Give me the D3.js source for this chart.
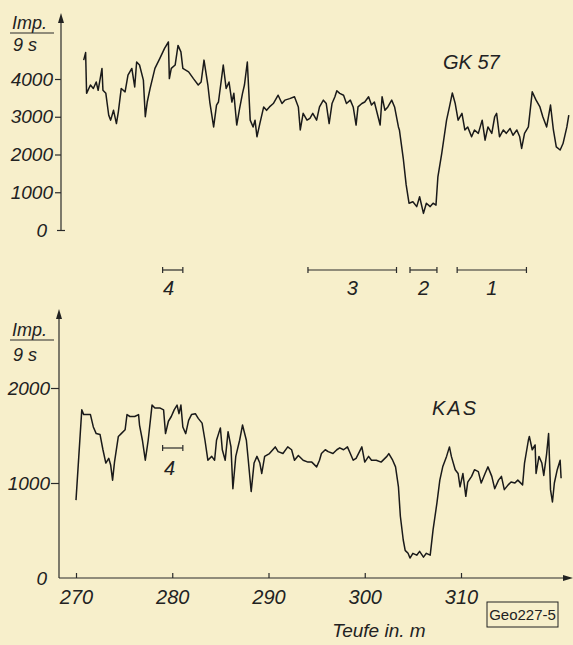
<!DOCTYPE html>
<html lang="de">
<head>
<meta charset="UTF-8">
<title>GK 57 / KAS - Teufe</title>
<style>
  body { margin: 0; background: #f7efcb; }
  svg { display: block; }
  text { font-family: "Liberation Sans", Arial, sans-serif; font-style: italic; fill: #222; }
  .trace { fill: none; stroke: #1a1a1a; stroke-width: 1.5px; stroke-linejoin: round; }
  .axis line, .ax { stroke: #2a2a2a; stroke-width: 1.2px; fill: none; }
</style>
</head>
<body>
<script src="https://d3js.org/d3.v7.min.js"></script>
<script>
// GK 57 log: [depth m, Imp./9 s]
const gk57 = [[270.8,4500],[271.0,4700],[271.1,3620],[271.5,3840],[271.8,3750],[272.1,3920],[272.3,3700],[272.7,4280],[272.8,3700],[273.1,3620],[273.4,3040],[273.6,2910],[273.9,3170],[274.2,2820],[274.4,3130],[274.7,3750],[275.1,3660],[275.4,4100],[275.8,4280],[276.1,3790],[276.3,4450],[276.6,4370],[277.0,3970],[277.2,3000],[277.4,3390],[277.7,3750],[278.2,4280],[278.7,4540],[279.2,4810],[279.6,4980],[279.7,4010],[279.9,4280],[280.3,4370],[280.6,4890],[280.9,4720],[281.1,4280],[281.7,4190],[282.2,4010],[282.7,3840],[283.0,3920],[283.3,4500],[283.7,3840],[283.9,3390],[284.3,2730],[284.6,3310],[284.8,3390],[285.3,4370],[285.6,3750],[285.9,3920],[286.2,3390],[286.4,3620],[286.7,2780],[287.0,3220],[287.3,3620],[287.5,3840],[287.8,4450],[288.1,2910],[288.4,2730],[288.6,2910],[288.8,2470],[289.1,2820],[289.5,3260],[289.8,3170],[290.1,3260],[290.5,3350],[291.0,3570],[291.4,3350],[291.7,3440],[292.2,3480],[292.7,3530],[293.1,3260],[293.3,2650],[293.6,3090],[294.0,2910],[294.3,2960],[294.6,3090],[295.0,2910],[295.3,3260],[295.7,3440],[296.0,3350],[296.3,2820],[296.6,3350],[296.9,3530],[297.1,3690],[297.4,3620],[297.8,3570],[298.1,3350],[298.5,3440],[298.8,3260],[299.1,2780],[299.3,3260],[299.7,3350],[300.0,3390],[300.4,3530],[300.7,3310],[301.0,3390],[301.6,2780],[301.8,3530],[302.1,3170],[302.4,3260],[302.8,3440],[303.1,3260],[303.5,2730],[303.6,2650],[304.0,1900],[304.3,1200],[304.6,710],[305.0,750],[305.4,620],[305.7,880],[306.1,440],[306.4,710],[306.8,620],[307.1,710],[307.4,660],[307.6,1410],[308.0,2030],[308.5,2910],[308.8,3260],[309.1,3630],[309.4,3350],[309.7,2910],[310.1,3090],[310.4,2650],[310.7,2730],[311.1,2470],[311.4,2650],[311.8,2560],[312.2,2910],[312.5,2380],[312.8,2730],[313.2,2560],[313.5,3000],[313.7,3090],[314.0,2470],[314.4,2650],[314.7,2560],[315.1,2690],[315.4,2510],[315.8,2650],[316.1,2470],[316.3,2160],[316.6,2560],[317.0,2730],[317.4,3660],[317.8,3440],[318.2,3260],[318.5,3000],[318.9,2730],[319.3,3310],[319.6,2650],[319.9,2200],[320.3,2120],[320.6,2290],[321.0,2730],[321.2,3040]];

// KAS log: [depth m, Imp./9 s]
const kas = [[270.0,820],[270.6,1770],[270.8,1720],[271.5,1720],[271.8,1590],[272.1,1520],[272.5,1510],[272.8,1350],[273.1,1210],[273.4,1260],[273.6,1190],[273.8,1030],[274.0,1220],[274.4,1490],[274.7,1520],[275.1,1560],[275.3,1720],[275.6,1700],[276.1,1700],[276.5,1720],[276.6,1610],[276.9,1450],[277.2,1240],[277.5,1450],[277.9,1820],[278.2,1790],[278.7,1790],[279.1,1770],[279.3,1520],[279.6,1650],[279.9,1700],[280.2,1770],[280.5,1820],[280.7,1730],[280.9,1820],[281.1,1590],[281.4,1520],[281.7,1660],[282.0,1720],[282.4,1730],[282.7,1680],[283.1,1630],[283.4,1450],[283.7,1240],[284.1,1280],[284.4,1240],[284.6,1450],[285.0,1580],[285.2,1350],[285.5,1240],[285.8,1540],[286.1,1380],[286.3,940],[286.6,1280],[287.0,1450],[287.3,1610],[287.7,1450],[287.9,1240],[288.2,910],[288.5,1210],[288.8,1280],[289.1,1210],[289.3,1100],[289.6,1280],[290.1,1310],[290.7,1380],[291.0,1330],[291.5,1310],[292.0,1380],[292.4,1350],[292.7,1240],[293.1,1290],[293.6,1240],[294.1,1220],[294.5,1220],[295.0,1170],[295.3,1240],[295.5,1310],[295.9,1350],[296.2,1330],[296.7,1310],[297.1,1350],[297.4,1370],[297.8,1350],[298.2,1380],[298.5,1310],[298.8,1240],[299.1,1260],[299.7,1380],[300.0,1220],[300.4,1280],[300.7,1240],[301.2,1240],[301.7,1220],[302.3,1280],[302.5,1310],[302.9,1240],[303.2,1170],[303.5,960],[303.7,650],[304.0,400],[304.2,290],[304.3,280],[304.5,260],[304.7,210],[305.0,260],[305.4,240],[305.7,280],[306.1,220],[306.4,260],[306.8,240],[307.1,510],[307.5,790],[307.8,1030],[308.1,1170],[308.5,1280],[308.8,1380],[309.0,1280],[309.4,1140],[309.7,1100],[309.9,960],[310.2,1100],[310.5,860],[310.7,1010],[311.1,1070],[311.4,1140],[311.8,1120],[312.1,1000],[312.5,1100],[312.8,1170],[313.2,1070],[313.5,940],[313.9,1030],[314.2,1070],[314.5,930],[314.9,980],[315.2,1010],[315.6,1000],[315.9,1030],[316.4,980],[316.6,1210],[317.0,1450],[317.1,1490],[317.4,1350],[317.7,1400],[317.8,1100],[318.1,1280],[318.4,1210],[318.6,1080],[318.9,1310],[319.1,1520],[319.3,930],[319.5,800],[319.7,1000],[320.0,1140],[320.3,1240],[320.4,1050]];

const depthTicks = [270, 280, 290, 300, 310];
const gkTicks = [0, 1000, 2000, 3000, 4000];
const kasTicks = [0, 1000, 2000];
const intervalNames = ["4", "3", "2", "1"];
const intervalFrom = [279.0, 294.1, 304.7, 309.6];
const intervalTo = [281.1, 303.3, 307.5, 316.8];

const width = 573, height = 645;
const ink = "#222";

const svg = d3.select("body").append("svg")
    .attr("width", width)
    .attr("height", height);

svg.append("rect").attr("width", width).attr("height", height).attr("fill", "#f7efcb");

const x = d3.scaleLinear().domain([270, 310]).range([76, 461]);
const yTop = d3.scaleLinear().domain([0, 4000]).range([230, 79]);
const yBot = d3.scaleLinear().domain([0, 2000]).range([578, 388]);

// arrowhead helper
function arrow(px, py, dir) {
    const p = dir === "up"
        ? [[px, py], [px - 3, py + 10], [px + 3, py + 10]]
        : [[px, py], [px - 10, py - 3], [px - 10, py + 3]];
    svg.append("path").attr("d", d3.line()(p) + "Z").attr("fill", ink);
}

// ---- top panel (GK 57) ----
const topAxisX = 61;
svg.append("line").attr("class", "ax")
    .attr("x1", topAxisX).attr("x2", topAxisX)
    .attr("y1", yTop(0)).attr("y2", 22);
arrow(topAxisX, 13, "up");

const gTop = svg.append("g").attr("class", "axis")
    .attr("transform", `translate(${topAxisX},0)`)
    .call(d3.axisLeft(yTop).tickValues(gkTicks).tickSize(6).tickSizeOuter(0).tickPadding(2).tickFormat(d3.format("d")))
    .attr("font-size", 19);
gTop.select(".domain").remove();
gTop.selectAll(".tick").filter(d => d === 0).select("line").attr("x1", -4).attr("x2", 4);
gTop.selectAll(".tick").filter(d => d === 0).select("text").attr("x", -14);

svg.append("path").datum(gk57).attr("class", "trace")
    .attr("d", d3.line().x(d => x(d[0])).y(d => yTop(d[1])));

// unit label
function unitLabel(ty, lineY, by, x0) {
    svg.append("text").attr("x", x0 + 2).attr("y", ty).attr("font-size", 18).text("Imp.");
    svg.append("line").attr("class", "ax").attr("x1", x0).attr("x2", x0 + 44).attr("y1", lineY).attr("y2", lineY);
    svg.append("text").attr("x", x0 + 3).attr("y", by).attr("font-size", 18).text("9 s");
}
unitLabel(29, 33, 51, 10);

svg.append("text").attr("x", 443).attr("y", 69).attr("font-size", 20).text("GK 57");

// ---- interval markers ----
const iv = svg.append("g");
intervalNames.forEach((n, i) => {
    const x0 = x(intervalFrom[i]), x1 = x(intervalTo[i]), yy = 270;
    iv.append("line").attr("class", "ax").attr("x1", x0).attr("x2", x1).attr("y1", yy).attr("y2", yy);
    iv.append("line").attr("class", "ax").attr("x1", x0).attr("x2", x0).attr("y1", yy - 3).attr("y2", yy + 3);
    iv.append("line").attr("class", "ax").attr("x1", x1).attr("x2", x1).attr("y1", yy - 3).attr("y2", yy + 3);
    iv.append("text").attr("x", i === 0 ? x0 + 6 : (x0 + x1) / 2).attr("y", 295)
        .attr("text-anchor", "middle").attr("font-size", 20).text(n);
});

// ---- bottom panel (KAS) ----
const botAxisX = 59;
svg.append("line").attr("class", "ax")
    .attr("x1", botAxisX).attr("x2", botAxisX)
    .attr("y1", yBot(0)).attr("y2", 318);
arrow(botAxisX, 309, "up");

const gBot = svg.append("g").attr("class", "axis")
    .attr("transform", `translate(${botAxisX},0)`)
    .call(d3.axisLeft(yBot).tickValues(kasTicks).tickSize(8).tickSizeOuter(0).tickPadding(1).tickFormat(d3.format("d")))
    .attr("font-size", 19);
gBot.select(".domain").remove();
gBot.selectAll(".tick").filter(d => d === 0).select("line").remove();
gBot.selectAll(".tick").filter(d => d === 0).select("text").attr("x", -12);

svg.append("line").attr("class", "ax")
    .attr("x1", botAxisX).attr("x2", 563)
    .attr("y1", yBot(0)).attr("y2", yBot(0));
arrow(573, yBot(0), "right");

const gX = svg.append("g").attr("class", "axis")
    .attr("transform", `translate(0,${yBot(0)})`)
    .call(d3.axisBottom(x).tickValues(depthTicks).tickSize(-5).tickSizeOuter(0).tickPadding(12).tickFormat(d3.format("d")))
    .attr("font-size", 20);
gX.select(".domain").remove();

svg.append("path").datum(kas).attr("class", "trace")
    .attr("d", d3.line().x(d => x(d[0])).y(d => yBot(d[1])));

unitLabel(336, 340, 361, 10);

svg.append("text").attr("x", 432).attr("y", 415).attr("font-size", 20)
    .attr("letter-spacing", 2).text("KAS");

// interval 4 repeated in KAS panel
{
    const x0 = x(intervalFrom[0]), x1 = x(intervalTo[0]), yy = 448;
    svg.append("line").attr("class", "ax").attr("x1", x0).attr("x2", x1).attr("y1", yy).attr("y2", yy);
    svg.append("line").attr("class", "ax").attr("x1", x0).attr("x2", x0).attr("y1", yy - 3).attr("y2", yy + 3);
    svg.append("line").attr("class", "ax").attr("x1", x1).attr("x2", x1).attr("y1", yy - 3).attr("y2", yy + 3);
    svg.append("text").attr("x", x0 + 7).attr("y", 475).attr("text-anchor", "middle").attr("font-size", 20).text(intervalNames[0]);
}

// axis title
svg.append("text").attr("x", 379).attr("y", 637).attr("text-anchor", "middle")
    .attr("font-size", 19).text("Teufe in. m");

// figure tag
svg.append("rect").attr("x", 487).attr("y", 602).attr("width", 71).attr("height", 25)
    .attr("fill", "none").attr("stroke", ink).attr("stroke-width", 1);
svg.append("text").attr("x", 522.5).attr("y", 620).attr("text-anchor", "middle")
    .attr("font-size", 15).style("font-style", "normal").text("Geo227-5");
</script>
</body>
</html>
